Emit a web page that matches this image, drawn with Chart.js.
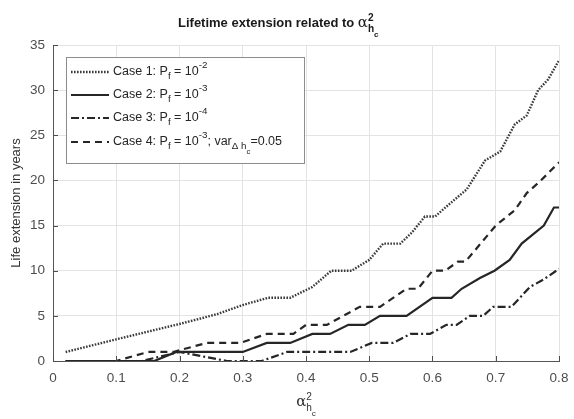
<!DOCTYPE html>
<html><head><meta charset="utf-8">
<script src="https://cdn.jsdelivr.net/npm/chart.js@4"></script>
<style>html,body{margin:0;padding:0;background:#fff;overflow:hidden}#wrap{width:574px;height:419px}</style>
</head><body><div id="wrap"><canvas id="c" width="574" height="419"></canvas></div>
<script>
// ---- data ----
const xTickValues = [0, 0.1, 0.2, 0.3, 0.4, 0.5, 0.6, 0.7, 0.8];
const xTickLabels = ["0", "0.1", "0.2", "0.3", "0.4", "0.5", "0.6", "0.7", "0.8"];
const yTickValues = [0, 5, 10, 15, 20, 25, 30, 35];
const yTickLabels = ["0", "5", "10", "15", "20", "25", "30", "35"];

const case1X = [0.02, 0.1, 0.2, 0.26, 0.3, 0.34, 0.375, 0.41, 0.44, 0.472, 0.5, 0.522, 0.549, 0.567, 0.588, 0.604, 0.622, 0.654, 0.683, 0.707, 0.73, 0.749, 0.767, 0.783, 0.8];
const case1Y = [1, 2.4, 4.1, 5.2, 6.2, 7, 7, 8.2, 10, 10, 11.2, 13, 13, 14.2, 16, 16, 17.1, 19, 22.2, 23.2, 26.2, 27.2, 30, 31.2, 33.3];

const case2X = [0.02, 0.16, 0.195, 0.3, 0.338, 0.375, 0.41, 0.438, 0.467, 0.493, 0.517, 0.559, 0.6, 0.63, 0.646, 0.675, 0.698, 0.722, 0.741, 0.776, 0.792, 0.8];
const case2Y = [0, 0, 1, 1, 2, 2, 3, 3, 4, 4, 5, 5, 7, 7, 8, 9.2, 10, 11.2, 13, 15, 17, 17];

const case3X = [0.02, 0.14, 0.2, 0.275, 0.33, 0.37, 0.47, 0.504, 0.538, 0.565, 0.596, 0.622, 0.638, 0.659, 0.68, 0.696, 0.725, 0.754, 0.775, 0.8];
const case3Y = [0, 0, 1, 0, 0, 1, 1, 2, 2, 3, 3, 4, 4, 5, 5, 6, 6, 8.2, 9, 10.2];

const case4X = [0.02, 0.1, 0.15, 0.19, 0.243, 0.296, 0.338, 0.38, 0.4, 0.433, 0.485, 0.517, 0.559, 0.577, 0.6, 0.62, 0.64, 0.652, 0.7, 0.73, 0.749, 0.77, 0.8];
const case4Y = [0, 0, 1, 1, 2, 2, 3, 3, 4, 4, 6, 6, 8, 8, 10, 10, 11, 11, 15, 16.7, 18.6, 19.9, 22];

const seriesNames = ["Case 1", "Case 2", "Case 3", "Case 4"];
// legend text pieces: [text, kind] kind: n=normal, sub, sup, sub2
const legendTexts = [
  [["Case 1: P","n"],["f","sub"],[" = 10","n"],["-2","sup"]],
  [["Case 2: P","n"],["f","sub"],[" = 10","n"],["-3","sup"]],
  [["Case 3: P","n"],["f","sub"],[" = 10","n"],["-4","sup"]],
  [["Case 4: P","n"],["f","sub"],[" = 10","n"],["-3","sup"],["; var","n"],["\u0394 h","sub"],["c","sub2"],["=0.05","n"]]
];
const titleTexts = [["Lifetime extension related to ","n"],["\u03b1","a"],["2","sup"],["h","sub"],["c","sub2"]];
const xTitleTexts = [["\u03b1","a"],["2","sup"],["h","sub"],["c","sub2"]];
const yTitleText = "Life extension in years";

// ---- styling ----
const FONT = "'Liberation Sans', Arial, Helvetica, sans-serif";
const LINE = '#262626';
const styles = [
  {dash:[1.6,1.4], width:2.4, color:'#3a3a3a'},
  {dash:[], width:2.2, color:LINE},
  {dash:[8,3,2,3], width:2.2, color:LINE},
  {dash:[7,5], width:2.2, color:LINE}
];

function pts(xs, ys){ return xs.map((x,i)=>({x:x, y:ys[i]})); }
const allX = [case1X, case2X, case3X, case4X];
const allY = [case1Y, case2Y, case3Y, case4Y];

function drawRich(ctx, x, y, parts, base, bold, measureOnly){
  let cx = x, supStart = null;
  parts.forEach(p=>{
    const kind = p[1];
    let size = base, dy = 0, fam = FONT, b = bold;
    if (kind==='a'){ size = base*1.15; fam = "'DejaVu Serif', serif"; b = false; }
    if (kind==='sup'){ size = base*0.78; dy = -base*0.5; }
    if (kind==='sub'){ size = base*0.78; dy = base*0.35; }
    if (kind==='sub2'){ size = base*0.62; dy = base*0.75; }
    ctx.font = (b?'bold ':'') + size.toFixed(1) + 'px ' + fam;
    let startX = cx;
    if (kind==='sup'){ supStart = cx; }
    else if (kind==='sub' && supStart!==null){ startX = supStart; }
    else if (kind!=='sub2'){ supStart = null; }
    if (!measureOnly) ctx.fillText(p[0], startX, y+dy);
    const w = ctx.measureText(p[0]).width;
    cx = Math.max(cx, startX + w);
  });
  return cx - x;
}

const deco = {
  id:'deco',
  afterDraw(chart){
    const ctx = chart.ctx, a = chart.chartArea, xs = chart.scales.x, ys = chart.scales.y;
    ctx.save();
    // inward tick marks
    ctx.strokeStyle = '#4d4d4d'; ctx.lineWidth = 1;
    xTickValues.forEach(v=>{
      const px = Math.round(xs.getPixelForValue(v))+0.5;
      ctx.beginPath(); ctx.moveTo(px, a.bottom); ctx.lineTo(px, a.bottom-5); ctx.stroke();
    });
    yTickValues.forEach(v=>{
      const py = Math.round(ys.getPixelForValue(v))+0.5;
      ctx.beginPath(); ctx.moveTo(a.left, py); ctx.lineTo(a.left+5, py); ctx.stroke();
    });
    // legend box
    const bx = 66, by = 57, bw = 238, bh = 106;
    ctx.fillStyle = '#fff'; ctx.fillRect(bx, by, bw, bh);
    ctx.strokeStyle = '#8c8c8c'; ctx.lineWidth = 1;
    ctx.strokeRect(bx+0.5, by+0.5, bw, bh);
    const rowsY = [72, 95, 118, 142];
    legendTexts.forEach((parts, i)=>{
      const st = styles[i];
      ctx.save();
      ctx.strokeStyle = st.color; ctx.lineWidth = st.width; ctx.setLineDash(st.dash);
      ctx.beginPath(); ctx.moveTo(71, rowsY[i]); ctx.lineTo(109, rowsY[i]); ctx.stroke();
      ctx.restore();
      ctx.fillStyle = '#262626'; ctx.textBaseline = 'middle'; ctx.textAlign = 'left';
      drawRich(ctx, 113, rowsY[i], parts, 12.5, false);
    });
    // title
    ctx.fillStyle = '#1a1a1a'; ctx.textBaseline = 'alphabetic'; ctx.textAlign = 'left';
    drawRich(ctx, 178, 27, titleTexts, 13, true);
    // x title
    ctx.fillStyle = '#333';
    const w = drawRich(ctx, 0, 0, xTitleTexts, 13, false, true);
    drawRich(ctx, (a.left+a.right)/2 - w/2, 406, xTitleTexts, 13, false);
    // y title
    ctx.save();
    ctx.translate(16, (a.top+a.bottom)/2);
    ctx.rotate(-Math.PI/2);
    ctx.font = '13px ' + FONT; ctx.textAlign = 'center'; ctx.textBaseline = 'middle';
    ctx.fillText(yTitleText, 0, 0);
    ctx.restore();
    ctx.restore();
  }
};

Chart.defaults.font.family = FONT;
Chart.defaults.font.size = 13;
Chart.defaults.color = '#4d4d4d';

new Chart(document.getElementById('c'), {
  type:'line',
  data:{
    datasets: seriesNames.map((n,i)=>({
      label:n,
      data: pts(allX[i], allY[i]),
      borderColor: styles[i].color,
      borderWidth: styles[i].width,
      borderDash: styles[i].dash,
      pointRadius:0,
      tension:0,
      fill:false
    }))
  },
  options:{
    responsive:false,
    animation:false,
    devicePixelRatio:1,
    layout:{padding:{left:0, right:15, top:45, bottom:0}},
    plugins:{legend:{display:false}, title:{display:false}, tooltip:{enabled:false}},
    scales:{
      x:{
        type:'linear', min:0, max:0.8,
        afterBuildTicks(s){ s.ticks = xTickValues.map(v=>({value:v})); },
        ticks:{ callback:(v)=>{ const i = xTickValues.findIndex(t=>Math.abs(t-v)<1e-9); return i>=0?xTickLabels[i]:''; }, padding:9, maxRotation:0, autoSkip:false, font:{size:13.5}},
        grid:{color:'#e3e3e3', drawTicks:false, lineWidth:1},
        border:{display:true, color:'#555', width:1},
        afterFit(s){ s.height = 58; s.paddingLeft = 0; s.paddingRight = 0; }
      },
      y:{
        type:'linear', min:0, max:35,
        afterBuildTicks(s){ s.ticks = yTickValues.map(v=>({value:v})); },
        ticks:{ callback:(v)=>{ const i = yTickValues.indexOf(v); return i>=0?yTickLabels[i]:''; }, padding:8, font:{size:13.5}},
        grid:{color:'#e3e3e3', drawTicks:false, lineWidth:1},
        border:{display:true, color:'#555', width:1},
        afterFit(s){ s.width = 53; s.paddingTop = 0; s.paddingBottom = 0; }
      }
    }
  },
  plugins:[deco]
});
</script>
</body></html>
